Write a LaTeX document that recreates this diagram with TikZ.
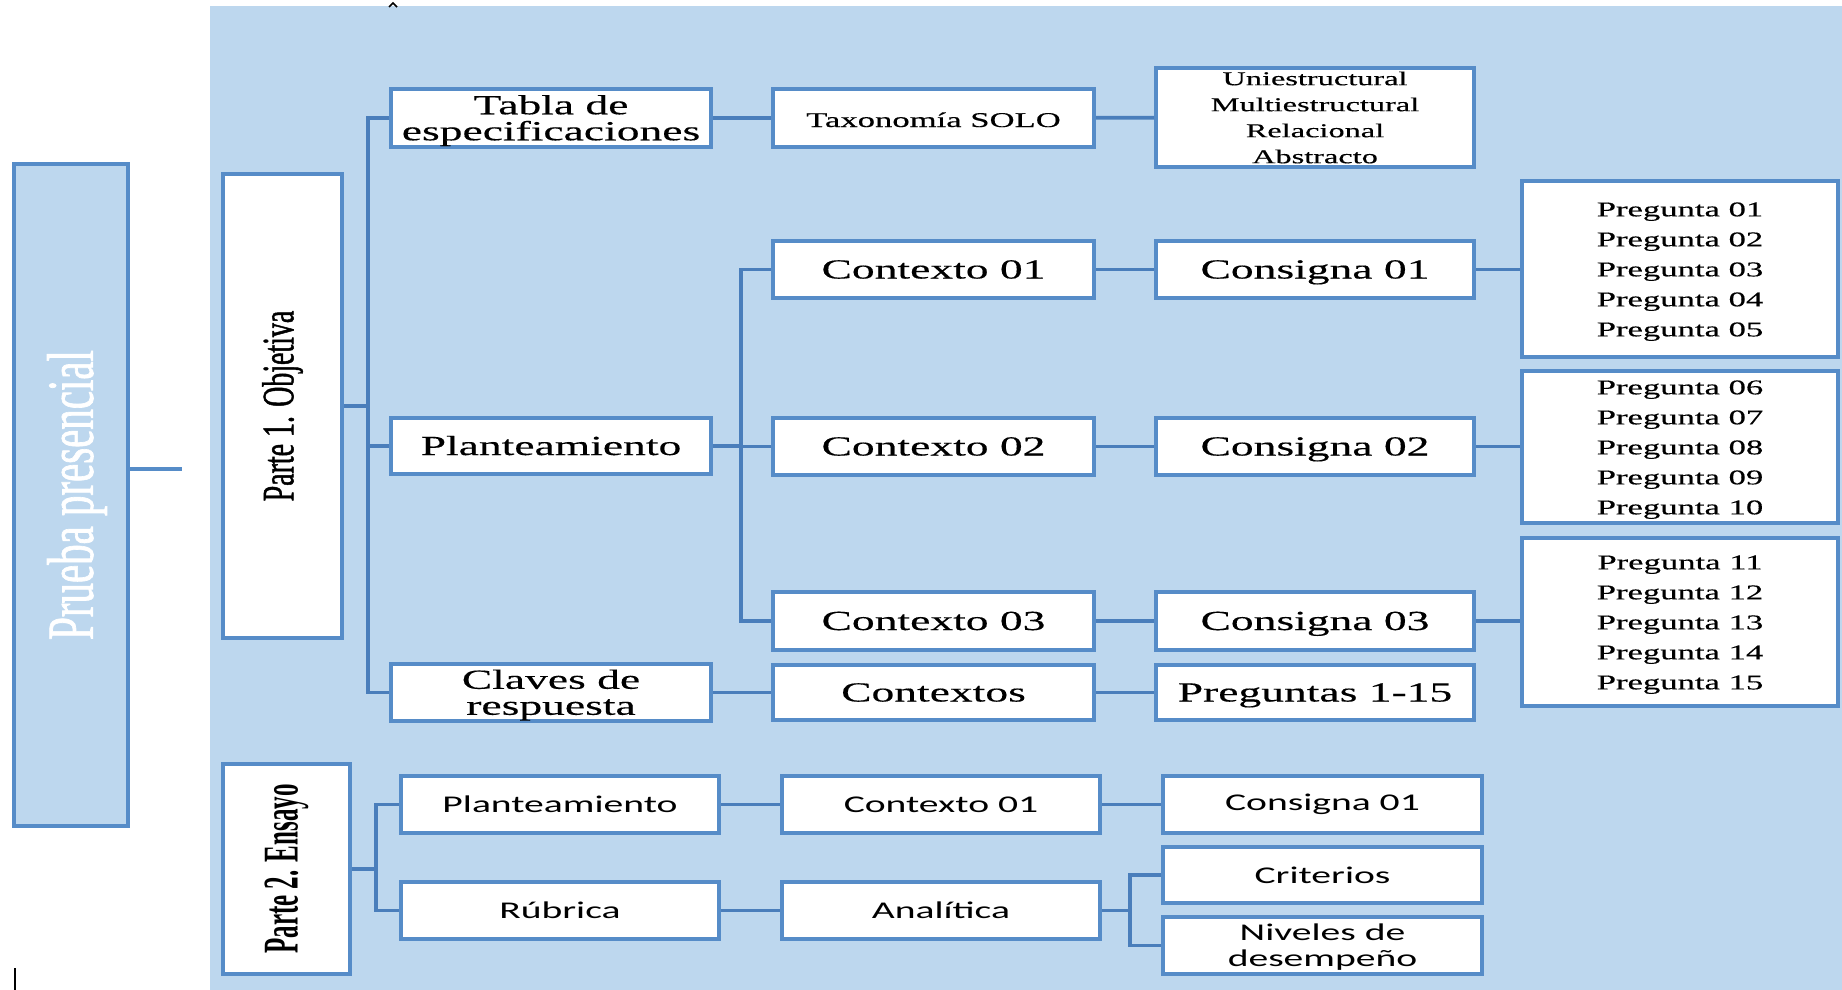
\documentclass[tikz,border=0pt]{standalone}
\usepackage{fontspec}
\setmainfont{Liberation Serif}
\newfontfamily\serifW[FakeStretch=1.65,FakeBold=0.35]{Liberation Serif}
\newfontfamily\sansW[FakeStretch=1.65]{Carlito}
\newfontfamily\serifN[FakeStretch=0.62,FakeBold=1]{Liberation Serif}
\newfontfamily\serifNB[FakeStretch=0.5]{Liberation Serif}
\definecolor{bgblue}{HTML}{BDD7EE}
\definecolor{bordblue}{RGB}{86,140,200}
\definecolor{lineblue}{RGB}{74,126,187}
\tikzset{
  box/.style={draw=bordblue, line width=2pt, fill=white, inner sep=0pt, align=center, text=black},
  one/.style={text height=10.8pt, text depth=1.8pt},
  conn/.style={draw=lineblue, line width=1.8pt},
  bigtxt/.style={font=\serifW\fontsize{13.8}{13}\selectfont},
  smalltxt/.style={font=\serifW\fontsize{10.5}{15}\selectfont},
  sanstxt/.style={font=\sansW\fontsize{12}{13}\selectfont},
}
\begin{document}
\begin{tikzpicture}[x=0.5pt,y=-0.5pt]
\useasboundingbox (0,0) rectangle (1842,990);
\fill[white] (0,0) rectangle (1842,990);
\fill[bgblue] (210,6) rectangle (1842,990);
% artifacts
\draw[black, line width=1pt] (15,968) -- (15,990);
\draw[black, line width=0.8pt] (389,7) -- (393,3) -- (397,7);

% Prueba presencial
\node[draw=bordblue, line width=2pt, fill=bgblue, inner sep=0pt, minimum width=57pt, minimum height=331pt] (pp) at (71,495) {};
\node[rotate=90, text=white, font=\serifN\fontsize{33}{33}\selectfont] (pptxt) at (77,495) {Prueba presencial};
\coordinate (ppend) at (182,469);
\draw[draw=bordblue, line width=2pt] (pp.east |- ppend) -- (ppend);

% Parte 1
\node[box, minimum width=59.5pt, minimum height=232pt] (p1) at (282.5,406) {};
\node[rotate=90, font=\serifN\fontsize{22.5}{22.5}\selectfont] (p1txt) at (p1.center) {Parte 1. Objetiva};

\node[box, bigtxt, minimum width=160pt, minimum height=29pt] (tabla) at (551,118) {\rule{0pt}{12.2pt}Tabla de\\especificaciones};
\node[box, smalltxt, one, minimum width=160.5pt, minimum height=29pt] (taxo) at (933.5,118) {Taxonomía SOLO};
\node[box, font=\serifW\fontsize{9.8}{13}\selectfont, minimum width=159pt, minimum height=49.5pt] (uni) at (1315,117.5) {Uniestructural\\Multiestructural\\Relacional\\Abstracto};

\node[box, bigtxt, one, minimum width=160pt, minimum height=28pt] (plan) at (551,446) {Planteamiento};
\node[box, bigtxt, one, minimum width=160.5pt, minimum height=28.5pt] (ctx1) at (933.5,269.5) {Contexto 01};
\node[box, bigtxt, one, minimum width=160.5pt, minimum height=28.5pt] (ctx2) at (933.5,446.5) {Contexto 02};
\node[box, bigtxt, one, minimum width=160.5pt, minimum height=29pt] (ctx3) at (933.5,621) {Contexto 03};
\node[box, bigtxt, one, minimum width=159pt, minimum height=28.5pt] (con1) at (1315,269.5) {Consigna 01};
\node[box, bigtxt, one, minimum width=159pt, minimum height=28.5pt] (con2) at (1315,446.5) {Consigna 02};
\node[box, bigtxt, one, minimum width=159pt, minimum height=29pt] (con3) at (1315,621) {Consigna 03};

\node[box, smalltxt, minimum width=158pt, minimum height=88pt] (pq1) at (1680,269) {\rule{0pt}{9.6pt}Pregunta 01\\Pregunta 02\\Pregunta 03\\Pregunta 04\\Pregunta 05};
\node[box, smalltxt, minimum width=158pt, minimum height=76pt] (pq2) at (1680,447) {\rule{0pt}{9.6pt}Pregunta 06\\Pregunta 07\\Pregunta 08\\Pregunta 09\\Pregunta 10};
\node[box, smalltxt, minimum width=158pt, minimum height=84pt] (pq3) at (1680,622) {\rule{0pt}{9.6pt}Pregunta 11\\Pregunta 12\\Pregunta 13\\Pregunta 14\\Pregunta 15};

\node[box, bigtxt, minimum width=160pt, minimum height=27.5pt] (claves) at (551,692.5) {\rule{0pt}{12.2pt}Claves de\\respuesta};
\node[box, bigtxt, one, minimum width=160.5pt, minimum height=27.5pt] (ctxs) at (933.5,692.5) {Contextos};
\node[box, bigtxt, one, minimum width=159pt, minimum height=27.5pt] (p115) at (1315,692.5) {Preguntas 1-15};

% Parte 2
\node[box, minimum width=63.5pt, minimum height=105pt] (p2) at (286.5,869) {};
\node[rotate=90, font=\serifNB\bfseries\fontsize{25}{25}\selectfont] (p2txt) at (p2.center) {Parte 2. Ensayo};

\node[box, sanstxt, minimum width=159pt, minimum height=28.5pt] (plan2) at (560,804.5) {Planteamiento};
\node[box, sanstxt, minimum width=159pt, minimum height=28.5pt] (ctxb) at (941,804.5) {Contexto 01};
\node[box, sanstxt, minimum width=159.5pt, minimum height=28.5pt] (conb) at (1322.5,804.5) {Consigna 01};
\node[box, sanstxt, minimum width=159pt, minimum height=28.5pt] (rub) at (560,910.5) {Rúbrica};
\node[box, sanstxt, minimum width=159pt, minimum height=28.5pt] (ana) at (941,910.5) {Analítica};
\node[box, sanstxt, minimum width=159.5pt, minimum height=28pt] (crit) at (1322.5,875) {Criterios};
\node[box, sanstxt, minimum width=159.5pt, minimum height=28.5pt] (niv) at (1322.5,945.5) {\rule{0pt}{10.4pt}Niveles de\\desempeño};

% connectors Parte 1
\coordinate (t1) at (368,0);
\coordinate (t2) at (741,0);
\draw[conn] (p1.east) -- (p1.east -| t1);
\draw[conn] (tabla.west) -| (t1 |- claves.west) -- (claves.west);
\draw[conn] (plan.west) -- (plan.west -| t1);
\draw[conn] (tabla) -- (taxo);
\draw[conn] (taxo) -- (uni);
\draw[conn] (plan.east) -- (plan.east -| t2);
\draw[conn] (ctx1.west) -| (t2 |- ctx3.west) -- (ctx3.west);
\draw[conn] (ctx2.west) -- (ctx2.west -| t2);
\draw[conn] (ctx1) -- (con1);
\draw[conn] (ctx2) -- (con2);
\draw[conn] (ctx3) -- (con3);
\draw[conn] (con1.east) -- (con1.east -| pq1.west);
\draw[conn] (con2.east) -- (con2.east -| pq2.west);
\draw[conn] (con3.east) -- (con3.east -| pq3.west);
\draw[conn] (claves) -- (ctxs);
\draw[conn] (ctxs) -- (p115);

% connectors Parte 2
\coordinate (t3) at (376,0);
\coordinate (t4) at (1130,0);
\draw[conn] (p2.east) -- (p2.east -| t3);
\draw[conn] (plan2.west) -| (t3 |- rub.west) -- (rub.west);
\draw[conn] (plan2) -- (ctxb);
\draw[conn] (ctxb) -- (conb);
\draw[conn] (rub) -- (ana);
\draw[conn] (ana.east) -- (ana.east -| t4);
\draw[conn] (crit.west) -| (t4 |- niv.west) -- (niv.west);
\end{tikzpicture}
\end{document}
